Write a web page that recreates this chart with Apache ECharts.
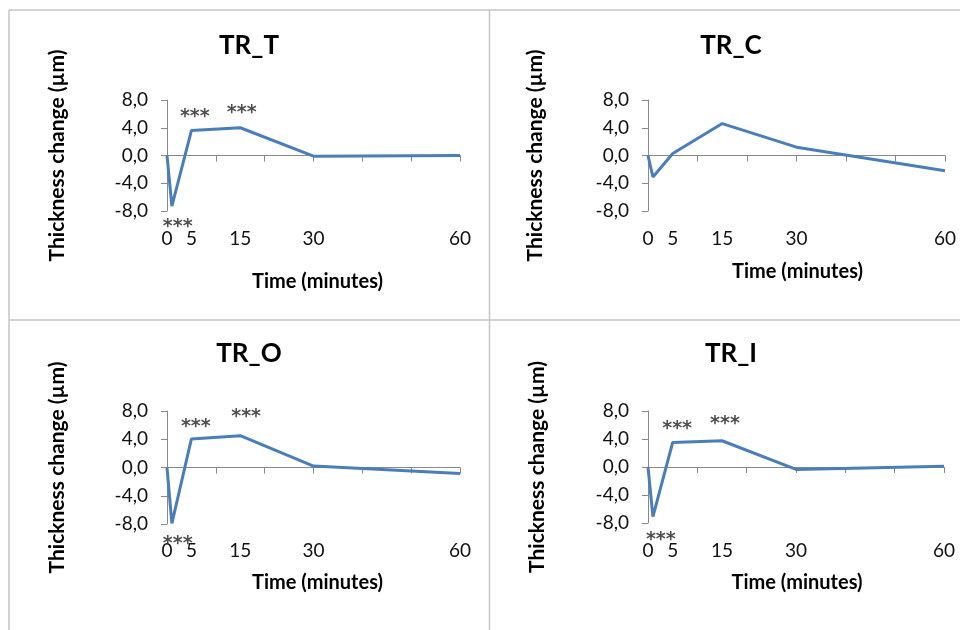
<!DOCTYPE html>
<html><head><meta charset="utf-8">
<script src="https://cdn.jsdelivr.net/npm/echarts@6/dist/echarts.min.js"></script>
<style>html,body{margin:0;padding:0;background:#fff}#c{width:960px;height:630px}</style>
</head><body><div id="c"></div>
<script>
// ---- data ----
const panelNames = ['TR_T', 'TR_C', 'TR_O', 'TR_I'];
const timeMinutes = [0, 1, 5, 15, 30, 60];
const xTickLabels = [0, 5, 15, 30, 60];
const yTicks = [-8, -4, 0, 4, 8];
const valuesTR_T = [0, -7.3, 3.6, 4.0, -0.1, 0.0];
const valuesTR_C = [0, -3.1, 0.3, 4.6, 1.2, -2.2];
const valuesTR_O = [0, -7.9, 4.05, 4.5, 0.2, -0.85];
const valuesTR_I = [0, -7.1, 3.5, 3.75, -0.35, 0.1];
// significance marks ("***"): [time, value]
const starsTR_T = [[2.2, -9.6], [5.7, 6.2], [15.3, 6.8]];
const starsTR_C = [];
const starsTR_O = [[2.2, -10.1], [5.9, 6.4], [16.2, 7.9]];
const starsTR_I = [[2.6, -9.7], [5.9, 6.1], [15.6, 6.8]];
const yAxisName = 'Thickness change (µm)';
const xAxisName = 'Time (minutes)';

// ---- layout ----
const panels = [
  {vals: valuesTR_T, stars: starsTR_T, grid: {left: 167, top: 100, width: 293, height: 111}, title: [249, 46], yGap: 99, xGap: 61, lblMargin: 18},
  {vals: valuesTR_C, stars: starsTR_C, grid: {left: 648, top: 100, width: 297, height: 111}, title: [731, 46], yGap: 102, xGap: 51, lblMargin: 18},
  {vals: valuesTR_O, stars: starsTR_O, grid: {left: 167, top: 411, width: 293, height: 113}, title: [249, 354], yGap: 99, xGap: 49, lblMargin: 17},
  {vals: valuesTR_I, stars: starsTR_I, grid: {left: 648, top: 411, width: 296, height: 112}, title: [731, 354], yGap: 100, xGap: 50, lblMargin: 18}
];

const FONT = 'Lato';
const axisGray = '#898989';
const lineBlue = '#4a7ebb';

const grid = [], xAxis = [], yAxis = [], series = [], graphics = [];
panels.forEach((p, i) => {
  grid.push(Object.assign({containLabel: false}, p.grid));
  // zero-line axis with ticks
  xAxis.push({
    type: 'value', gridIndex: i, min: 0, max: 60, interval: 10, position: 'bottom',
    axisLine: {show: true, onZero: true, lineStyle: {color: axisGray, width: 1}},
    axisTick: {show: true, inside: false, length: 6, lineStyle: {color: axisGray}},
    axisLabel: {show: false}, splitLine: {show: false}
  });
  // label axis at the bottom
  xAxis.push({
    type: 'value', gridIndex: i, min: 0, max: 60, position: 'bottom',
    axisLine: {show: false, onZero: false}, axisTick: {show: false}, splitLine: {show: false},
    axisLabel: {show: true, customValues: xTickLabels, margin: p.lblMargin, color: '#111', fontFamily: FONT, fontSize: 19},
    name: xAxisName, nameLocation: 'middle', nameGap: p.xGap,
    nameTextStyle: {fontFamily: FONT, fontSize: 20, fontWeight: 'bold', color: '#000', padding: [0, 0, 0, i % 2 === 0 ? 8 : 2]}
  });
  yAxis.push({
    type: 'value', gridIndex: i, min: -8, max: 8, interval: 4,
    axisLine: {show: true, lineStyle: {color: axisGray, width: 1}},
    axisTick: {show: true, inside: false, length: 6, lineStyle: {color: axisGray}},
    splitLine: {show: false},
    axisLabel: {margin: 19, color: '#111', fontFamily: FONT, fontSize: 19,
      formatter: v => v.toFixed(1).replace('.', ',')},
    name: yAxisName, nameLocation: 'middle', nameRotate: 90, nameGap: p.yGap,
    nameTextStyle: {fontFamily: FONT, fontSize: 21, fontWeight: 'bold', color: '#000'}
  });
  series.push({
    type: 'line', xAxisIndex: 2 * i, yAxisIndex: i, symbol: 'none', clip: false,
    lineStyle: {color: lineBlue, width: 3}, data: timeMinutes.map((t, k) => [t, p.vals[k]]),
    z: 5
  });
  series.push({
    type: 'scatter', xAxisIndex: 2 * i, yAxisIndex: i, symbolSize: 2, clip: false,
    itemStyle: {color: 'rgba(0,0,0,0)'}, data: p.stars, silent: true,
    label: {show: true, position: 'inside', formatter: '***', color: '#222', fontFamily: 'DejaVu Sans', fontWeight: 'bold', fontSize: 19, offset: [0, 5]},
    z: 6
  });
  graphics.push({
    type: 'text', x: p.title[0], y: p.title[1],
    style: {text: panelNames[i], font: 'bold 26px ' + FONT, fill: '#000', align: 'center', verticalAlign: 'middle'}
  });
});

// panel borders
const borderColor = '#c4c4c4';
[[9, 10, 9, 630], [489.5, 10, 489.5, 630], [9, 10, 960, 10], [9, 320, 960, 320]].forEach(s => {
  graphics.push({type: 'line', shape: {x1: s[0], y1: s[1], x2: s[2], y2: s[3]}, style: {stroke: borderColor, lineWidth: 1.5}, z: 0});
});

const chart = echarts.init(document.getElementById('c'), null, {renderer: 'canvas'});
chart.setOption({
  animation: false,
  backgroundColor: '#fff',
  grid, xAxis, yAxis, series,
  graphic: {elements: graphics}
});
</script></body></html>
